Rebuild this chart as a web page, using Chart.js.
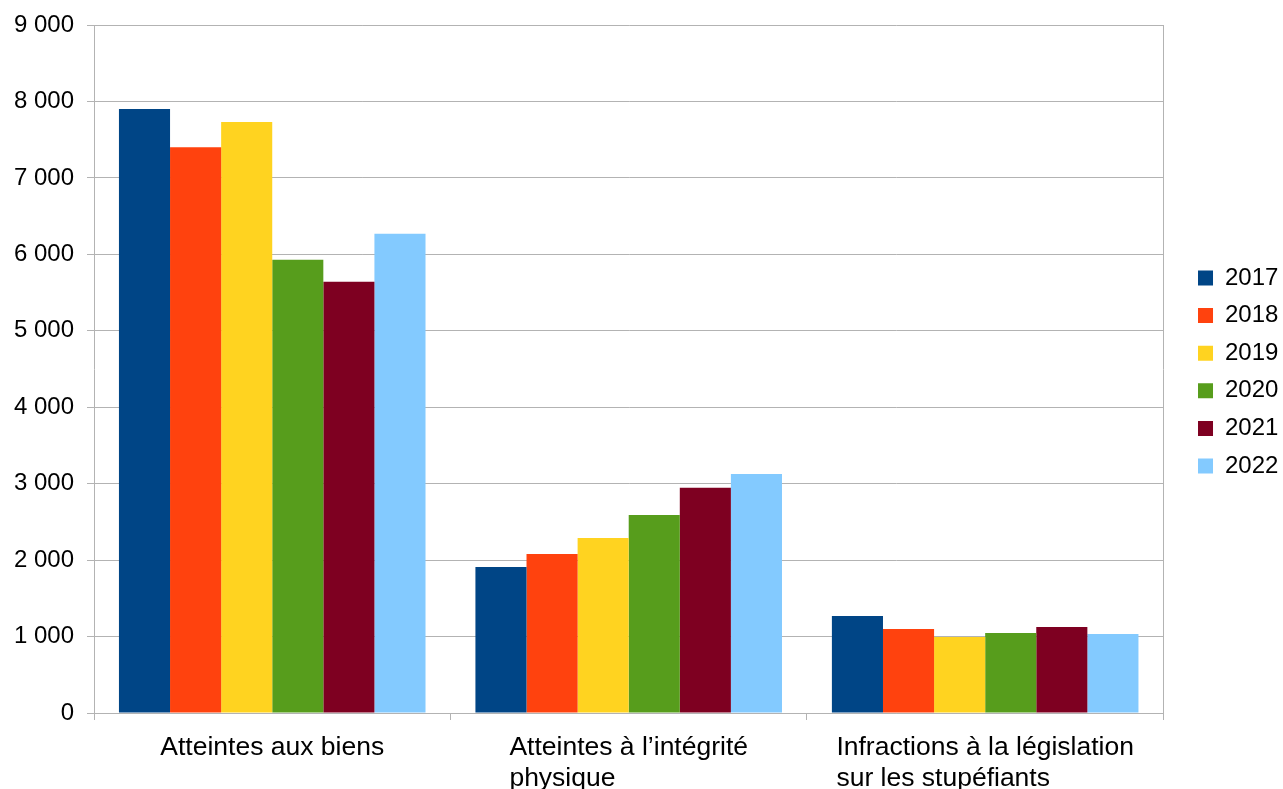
<!DOCTYPE html>
<html lang="fr">
<head>
    <meta charset="UTF-8">
    <title>Infractions par catégorie</title>
    <script src="https://cdn.jsdelivr.net/npm/chart.js"></script>
    <style>
        body {
            margin: 0;
            background: #fff;
        }
        .chart-box {
            width: 1283px;
            height: 789px;
        }
    </style>
</head>
<body>
    <div class="chart-box">
        <canvas id="chart"></canvas>
    </div>

    <script>
        // Data
        const categories = [
            ['Atteintes aux biens'],
            ['Atteintes à l\u2019intégrité', 'physique'],
            ['Infractions à la législation', 'sur les stupéfiants']
        ];
        const years = ['2017', '2018', '2019', '2020', '2021', '2022'];
        const v2017 = [7900, 1910, 1270];
        const v2018 = [7400, 2080, 1100];
        const v2019 = [7730, 2290, 995];
        const v2020 = [5930, 2590, 1045];
        const v2021 = [5640, 2945, 1125];
        const v2022 = [6270, 3125, 1035];
        const yTicks = [0, 1000, 2000, 3000, 4000, 5000, 6000, 7000, 8000, 9000];

        const colors = ['#004586', '#ff420e', '#ffd320', '#579d1c', '#7e0021', '#83caff'];
        const series = [v2017, v2018, v2019, v2020, v2021, v2022];
        const gridColor = '#b3b3b3';
        const fontFamily = '"Liberation Sans", Arial, sans-serif';

        Chart.defaults.font.family = fontFamily;
        Chart.defaults.color = '#000';

        function spaced(n) {
            return String(n).replace(/\B(?=(\d{3})+(?!\d))/g, ' ');
        }

        // category labels: block centred under the group, lines left-aligned
        const catLabels = {
            id: 'catLabels',
            afterDraw(chart) {
                const ctx = chart.ctx;
                const xs = chart.scales.x;
                ctx.save();
                ctx.font = '26.5px ' + fontFamily;
                ctx.fillStyle = '#000';
                ctx.textBaseline = 'alphabetic';
                ctx.textAlign = 'left';
                categories.forEach((lines, i) => {
                    const w = Math.max(...lines.map(l => ctx.measureText(l).width));
                    const x0 = xs.getPixelForTick(i) - w / 2;
                    lines.forEach((l, j) => ctx.fillText(l, x0, xs.top + 42 + j * 31));
                });
                ctx.restore();
            }
        };

        // move the legend a bit away from the plot
        const legendShift = {
            id: 'legendShift',
            afterLayout(chart) {
                chart.legend.left += 21;
                chart.legend.right += 21;
                chart.legend.top -= 35;
                chart.legend.bottom -= 35;
            }
        };

        new Chart(document.getElementById('chart'), {
            type: 'bar',
            data: {
                labels: categories.map(c => c.join(' ')),
                datasets: years.map((y, i) => ({
                    label: y,
                    data: series[i],
                    backgroundColor: colors[i],
                    borderWidth: 0,
                    categoryPercentage: 0.86,
                    barPercentage: 1
                }))
            },
            options: {
                responsive: true,
                maintainAspectRatio: false,
                animation: false,
                layout: { padding: { top: 25, right: 15.6, left: 0, bottom: 0 } },
                plugins: {
                    title: { display: false },
                    tooltip: { enabled: false },
                    legend: {
                        position: 'right',
                        labels: {
                            boxWidth: 15,
                            boxHeight: 15,
                            padding: 13.6,
                            font: { size: 24 },
                            color: '#000'
                        }
                    }
                },
                scales: {
                    x: {
                        grid: {
                            offset: true,
                            drawOnChartArea: false,
                            color: gridColor,
                            tickLength: 7
                        },
                        border: { color: gridColor },
                        ticks: { color: 'rgba(0,0,0,0)', font: { size: 25 } },
                        afterFit(scale) { scale.height = 76; }
                    },
                    y: {
                        min: 0,
                        max: 9000,
                        afterBuildTicks(scale) { scale.ticks = yTicks.map(v => ({ value: v })); },
                        grid: { color: gridColor, tickLength: 7 },
                        border: { color: gridColor },
                        ticks: {
                            padding: 13,
                            font: { size: 24 },
                            callback: v => spaced(v)
                        },
                        afterFit(scale) {
                            scale.width = 94;
                            scale.paddingTop = 0;
                            scale.paddingBottom = 0;
                        }
                    },
                    y2: {
                        position: 'right',
                        min: 0,
                        max: 9000,
                        grid: { drawOnChartArea: false, drawTicks: false },
                        border: { color: gridColor },
                        ticks: { display: false },
                        afterFit(scale) { scale.width = 0; }
                    }
                }
            },
            plugins: [catLabels, legendShift]
        });
    </script>
</body>
</html>
